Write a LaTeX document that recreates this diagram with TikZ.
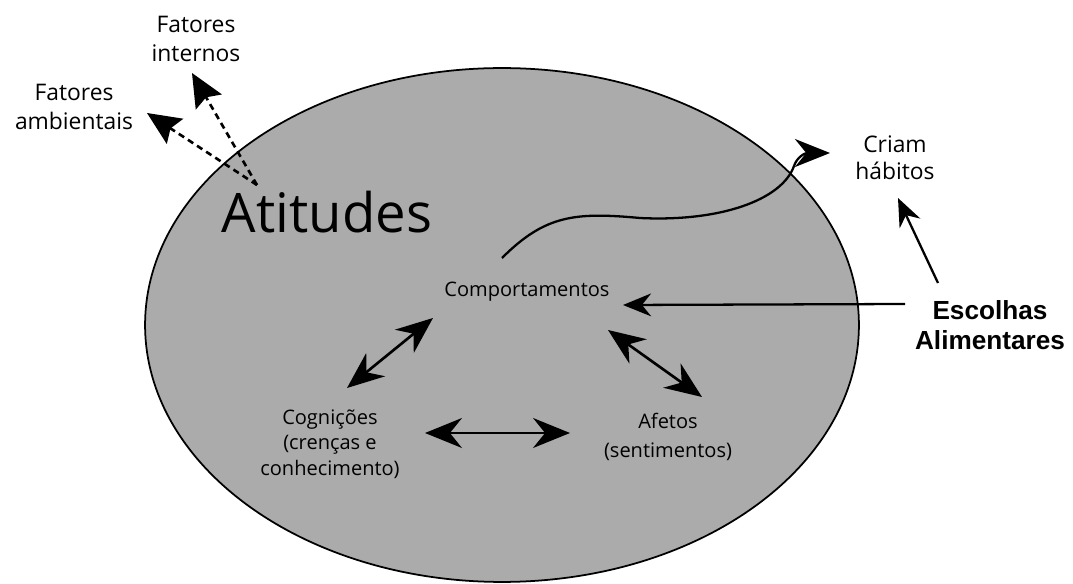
\documentclass[tikz,border=0pt]{standalone}
\usepackage{fontspec}
\setmainfont{Open Sans}
\newfontfamily\arialfont{Liberation Sans}
\usetikzlibrary{arrows.meta,calc}

\tikzset{
  rotulo/.style={align=center, inner sep=0pt, font=\fontsize{13}{16}\selectfont},
  interno/.style={align=center, inner sep=0pt, font=\fontsize{11.4}{15}\selectfont},
  seta/.style={line width=1.5pt, {Stealth[length=21pt,width=17pt]}-{Stealth[length=21pt,width=17pt]}},
  setaext/.style={line width=1.3pt, -{Stealth[length=16pt,width=13pt]}},
  tracej/.style={line width=1.5pt, dash pattern=on 3.6pt off 2.6pt, -{Stealth[length=19pt,width=17pt,inset=3pt]}},
}

\begin{document}
\begin{tikzpicture}[x=0.02cm, y=-0.02cm]
  \useasboundingbox (0,0) rectangle (1073,584);

  % elipse
  \fill[black!33, draw=black, line width=1pt] (502,325) ellipse [x radius=7.14cm, y radius=5.14cm];

  % textos
  \node[inner sep=0pt, font=\fontsize{31}{34}\selectfont] (atitudes) at (327,212) {Atitudes};
  \node[interno] (comport) at (527,292) {Comportamentos};
  \node[interno, font=\fontsize{11.4}{14.6}\selectfont] (cogn) at (330,444) {Cognições\\(crenças e\\conhecimento)};
  \node[interno, font=\fontsize{11.4}{16.5}\selectfont] (afetos) at (668,437) {Afetos\\(sentimentos)};
  \node[rotulo] (internos) at (196,39) {Fatores\\internos};
  \node[rotulo] (ambientais) at (74,107) {Fatores\\ambientais};
  \node[rotulo, font=\fontsize{13}{15.5}\selectfont] (habitos) at (895,158) {Criam\\hábitos};
  \node[align=center, inner sep=0pt, font=\arialfont\bfseries\fontsize{14.9}{17}\selectfont] (escolhas) at (990,325) {Escolhas\\Alimentares};

  % setas duplas
  \draw[seta] ($(cogn)+(17,-56)$) -- ($(comport)+(-94,26)$);
  \draw[seta] ($(comport)+(81,38)$) -- ($(afetos)+(34,-40)$);
  \draw[seta] ($(cogn)+(95,-11)$) -- ($(afetos)+(-98,-4)$);

  % fatores
  \draw[tracej] ($(atitudes)+(-70,-27)$) -- ($(internos)+(-4,34)$);
  \draw[tracej] ($(atitudes)+(-70,-27)$) -- ($(ambientais)+(73,6)$);

  % curva ate os habitos
  \draw[line width=1.3pt, -{Stealth[length=20pt,width=16pt]}] ($(comport)+(-25,-34)$)
    .. controls (545,215) and (575,212) .. (640,218)
    .. controls (720,222) and (782,200) .. (794,166)
    .. controls (797,157) and (805,153) .. ($(habitos)+(-65,-5)$);

  % escolhas alimentares
  \draw[setaext] ($(escolhas)+(-85,-21)$) -- ($(comport)+(96,13)$);
  \draw[setaext] ($(escolhas)+(-52,-42)$) -- ($(habitos)+(3,40)$);
\end{tikzpicture}
\end{document}
